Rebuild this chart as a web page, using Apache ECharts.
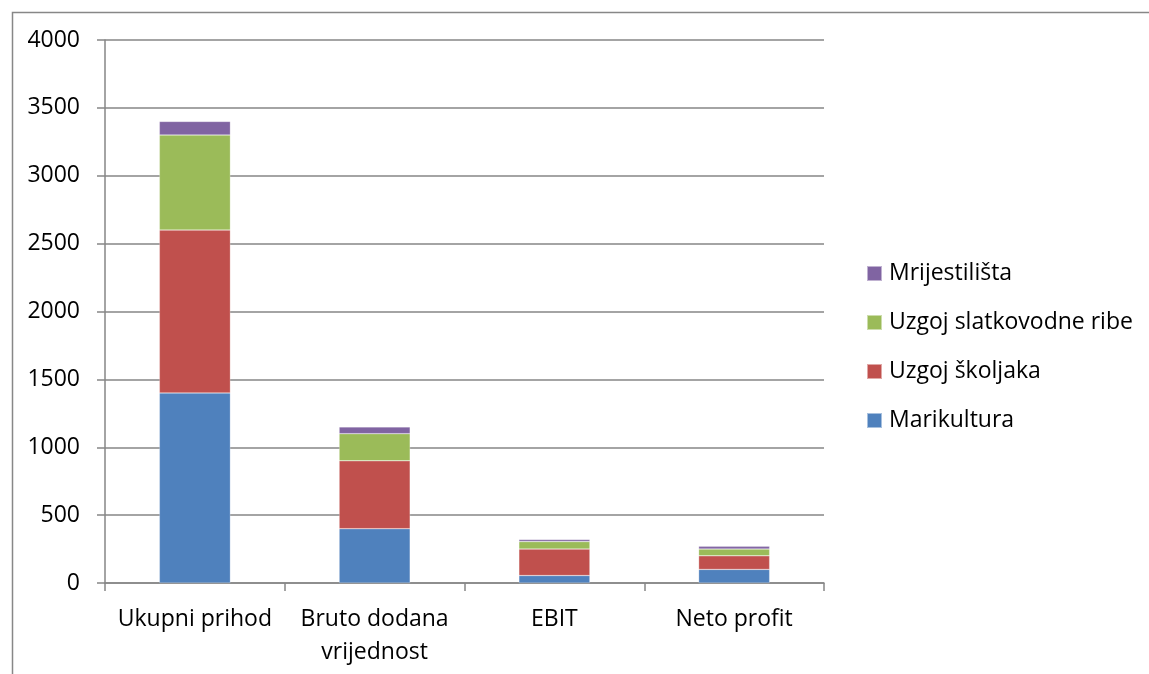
<!DOCTYPE html>
<html>
<head>
<meta charset="utf-8">
<script src="https://cdn.jsdelivr.net/npm/echarts@6/dist/echarts.min.js"></script>
<style>
  html, body { margin: 0; padding: 0; background: #fff; }
  #chart { width: 1149px; height: 674px; }
</style>
</head>
<body>
<div id="chart"></div>
<script>
// categories and series values
var categories = ['Ukupni prihod', 'Bruto dodana\nvrijednost', 'EBIT', 'Neto profit'];
var marikultura = [1400, 400, 55, 100];
var skoljke = [1200, 500, 195, 100];
var slatkovodne = [700, 200, 55, 50];
var mrijestilista = [100, 50, 15, 20];
var yTicks = { min: 0, max: 4000, interval: 500 };

var colors = {
  'Marikultura': '#4F81BD',
  'Uzgoj školjaka': '#C0504D',
  'Uzgoj slatkovodne ribe': '#9BBB59',
  'Mrijestilišta': '#8064A2'
};
var font = '"Open Sans", Lato, sans-serif';

var myChart = echarts.init(document.getElementById('chart'));

function bar(name, data) {
  return {
    name: name,
    type: 'bar',
    stack: 'total',
    barWidth: 71,
    data: data,
    itemStyle: { color: colors[name], borderColor: 'rgba(255,255,255,0.5)', borderWidth: 0.5 }
  };
}

var option = {
  animation: false,
  textStyle: { fontFamily: font },
  graphic: [{
    type: 'rect',
    left: 10, top: 10,
    shape: { width: 1300, height: 800 },
    style: { fill: 'none', stroke: '#878787', lineWidth: 1.5 },
    silent: true
  }],
  grid: { left: 105, top: 40, width: 719, height: 543, containLabel: false },
  legend: {
    orient: 'vertical',
    left: 861,
    top: 257,
    itemWidth: 15,
    itemHeight: 15,
    itemGap: 26,
    icon: 'rect',
    textStyle: { fontSize: 23, lineHeight: 22, color: '#000', fontFamily: font, padding: [0, 0, 0, 2] },
    data: ['Mrijestilišta', 'Uzgoj slatkovodne ribe', 'Uzgoj školjaka', 'Marikultura']
  },
  xAxis: {
    type: 'category',
    data: categories,
    axisLine: { lineStyle: { color: '#868686', width: 1.5 } },
    axisTick: { show: true, length: 8, lineStyle: { color: '#868686', width: 1.5 } },
    axisLabel: { color: '#000', fontSize: 23, margin: 20, lineHeight: 33, interval: 0 }
  },
  yAxis: {
    type: 'value',
    min: yTicks.min,
    max: yTicks.max,
    interval: yTicks.interval,
    axisLine: { show: true, lineStyle: { color: '#868686', width: 1.5 } },
    axisTick: { show: true, length: 8, lineStyle: { color: '#868686', width: 1.5 } },
    axisLabel: { color: '#000', fontSize: 23, margin: 25, formatter: function (v) { return String(v); } },
    splitLine: { lineStyle: { color: '#868686', width: 1.5 } }
  },
  series: [
    bar('Marikultura', marikultura),
    bar('Uzgoj školjaka', skoljke),
    bar('Uzgoj slatkovodne ribe', slatkovodne),
    bar('Mrijestilišta', mrijestilista)
  ]
};

myChart.setOption(option);
</script>
</body>
</html>
